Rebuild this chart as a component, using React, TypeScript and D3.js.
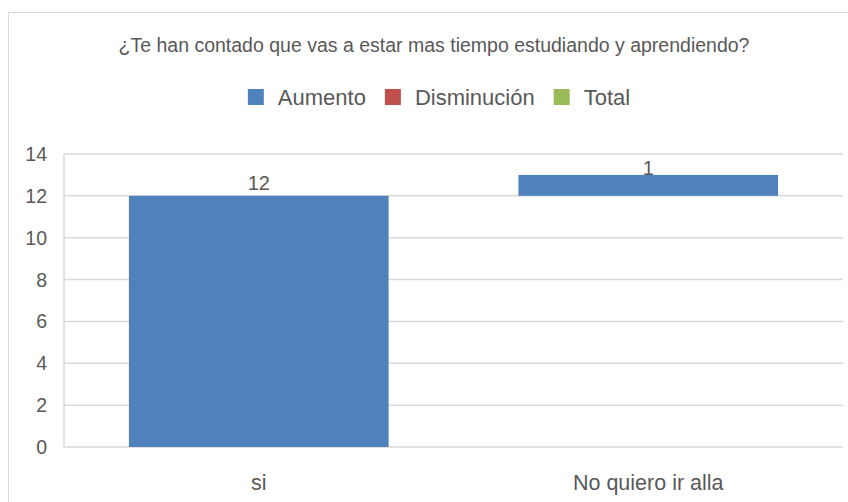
import React, { useMemo } from "react";
import * as d3 from "d3";

const title = "¿Te han contado que vas a estar mas tiempo estudiando y aprendiendo?";
const categories = ["si", "No quiero ir alla"];
const values = [12, 1];
const legendLabels = ["Aumento", "Disminución", "Total"];
const legendColors = ["#4F81BD", "#C0504D", "#9BBB59"];
const yTicks = [0, 2, 4, 6, 8, 10, 12, 14];

const W = 848;
const H = 502;
const FONT = "'Liberation Sans', Arial, sans-serif";
const TEXT = "#595959";
const GRID = "#D9D9D9";

function measure(text: string, size: number): number {
  if (typeof document === "undefined") return text.length * size * 0.5;
  const c = document.createElement("canvas");
  const ctx = c.getContext("2d");
  if (!ctx) return text.length * size * 0.5;
  ctx.font = `${size}px 'Liberation Sans'`;
  return ctx.measureText(text).width;
}

export default function App() {
  const left = 64;
  const right = 843;
  const top = 154;
  const bottom = 447;

  const x = d3
    .scaleBand<string>()
    .domain(categories)
    .range([left, right])
    .paddingInner(1 / 3)
    .paddingOuter(1 / 6);
  const y = d3.scaleLinear().domain([0, 14]).range([bottom, top]);

  let cum = 0;
  const bars = values.map((v, i) => {
    const start = cum;
    cum += v;
    return { cat: categories[i], v, start, end: cum };
  });

  const legendFont = 22;
  const sq = 16;
  const sqGap = 14;
  const itemGap = 19;
  const items = useMemo(() => {
    const widths = legendLabels.map((l) => measure(l, legendFont));
    const total =
      widths.reduce((a, b) => a + b, 0) +
      legendLabels.length * (sq + sqGap) +
      itemGap * (legendLabels.length - 1);
    let lx = 439 - total / 2;
    return legendLabels.map((l, i) => {
      const it = { x: lx, label: l, color: legendColors[i] };
      lx += sq + sqGap + widths[i] + itemGap;
      return it;
    });
  }, []);

  return (
    <svg
      width={W}
      height={H}
      style={{ position: "fixed", left: 0, top: 0, background: "#fff" }}
      fontFamily={FONT}
    >
      <rect x={0} y={0} width={W} height={H} fill="#fff" />
      <rect x={8.5} y={12.5} width={W} height={H} fill="none" stroke={GRID} strokeWidth={1} />
      <text x={434} y={52} textAnchor="middle" fontSize={19.5} fill={TEXT}>
        {title}
      </text>
      {items.map((it) => (
        <g key={it.label}>
          <rect x={it.x} y={89} width={sq} height={sq} fill={it.color} />
          <text x={it.x + sq + sqGap} y={105} fontSize={legendFont} fill={TEXT}>
            {it.label}
          </text>
        </g>
      ))}
      {yTicks.map((t) => (
        <g key={t}>
          <line x1={left} x2={right} y1={y(t)} y2={y(t)} stroke={GRID} strokeWidth={1.5} />
          <text x={47} y={y(t) + 7} textAnchor="end" fontSize={19.5} fill={TEXT}>
            {t}
          </text>
        </g>
      ))}
      <line x1={left} x2={left} y1={top} y2={bottom} stroke={GRID} strokeWidth={1.5} />
      {bars.map((b, i) => (
        <g key={b.cat}>
          <rect
            x={x(b.cat)!}
            y={y(b.end)}
            width={x.bandwidth()}
            height={y(b.start) - y(b.end)}
            fill={legendColors[0]}
          />
          <text
            x={x(b.cat)! + x.bandwidth() / 2}
            y={y(b.end) - (i === 0 ? 6 : 0)}
            textAnchor="middle"
            fontSize={20}
            fill={TEXT}
          >
            {b.v}
          </text>
          <text
            x={x(b.cat)! + x.bandwidth() / 2}
            y={490}
            textAnchor="middle"
            fontSize={21.5}
            fill={TEXT}
          >
            {b.cat}
          </text>
        </g>
      ))}
    </svg>
  );
}
